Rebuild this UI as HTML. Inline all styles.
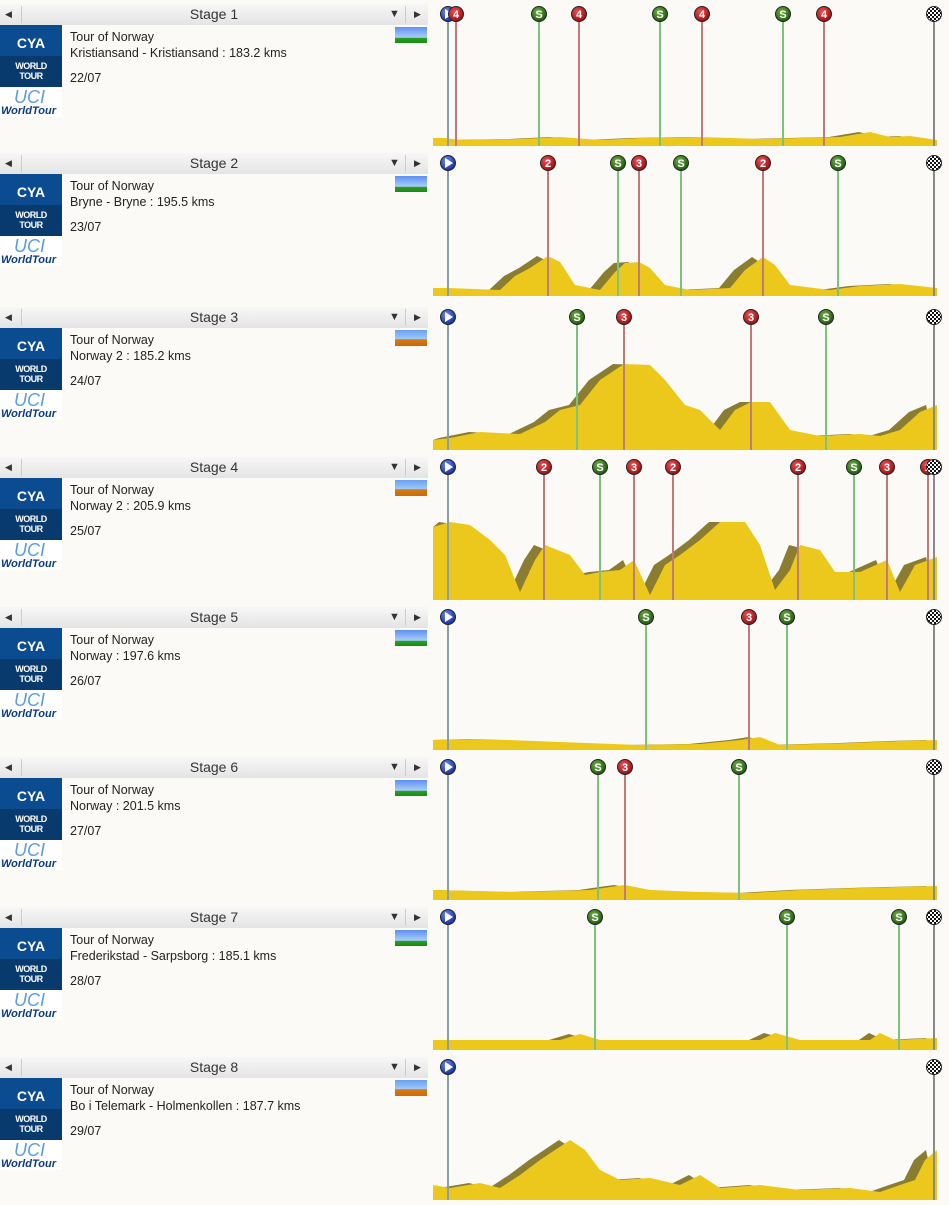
<!DOCTYPE html>
<html><head><meta charset="utf-8">
<style>
body{margin:0;width:949px;height:1205px;background:#fbfaf6;overflow:hidden;position:relative;font-family:"Liberation Sans","DejaVu Sans",sans-serif;}
.hdr{position:absolute;left:0;width:428px;height:21px;background:linear-gradient(#f7f7f7,#e4e4e4);color:#333;font-size:14px;}
.hdr .t{position:absolute;left:0;width:428px;text-align:center;top:2px;}
.hdr .a{position:absolute;font-size:9px;top:5px;color:#333}
.hdr .sep{position:absolute;top:2px;width:1px;height:17px;background:#ccc}
.logo{position:absolute;left:0;width:62px;}
.cya{height:31px;background:#0b4b8f;color:#fff;font-weight:bold;font-size:14px;text-align:center;line-height:36px;}
.wt{height:31px;background:#083a6e;color:#fff;font-weight:bold;font-size:9px;text-align:center;line-height:10px;padding-top:5px;box-sizing:border-box;letter-spacing:-0.5px}
.uci{height:30px;background:#fff;color:#1a4fa0;font-style:italic;font-weight:bold;font-size:11px;position:relative}
.uci span{position:absolute;bottom:0;left:1px;color:#0a3a80}
.uci b{position:absolute;top:0;left:14px;color:#5a9de0;font-size:18px;font-style:italic;font-weight:normal}
.info{position:absolute;left:70px;font-size:12.5px;color:#222;line-height:16px}
.thumb{position:absolute;left:395px;width:32px;height:16px;}
</style></head><body>
<div id="panels"></div>
<svg id="ch" width="949" height="1205" style="position:absolute;left:0;top:0">
<defs>
<radialGradient id="gr" cx="40%" cy="35%" r="65%"><stop offset="0" stop-color="#f05050"/><stop offset="1" stop-color="#9a0f14"/></radialGradient>
<radialGradient id="gg" cx="40%" cy="35%" r="65%"><stop offset="0" stop-color="#6fb040"/><stop offset="1" stop-color="#1f5a10"/></radialGradient>
<radialGradient id="gb" cx="40%" cy="35%" r="65%"><stop offset="0" stop-color="#6a8ef0"/><stop offset="1" stop-color="#1a2f9a"/></radialGradient>
<pattern id="chk" width="4" height="4" patternUnits="userSpaceOnUse"><rect width="4" height="4" fill="#fff"/><rect width="2" height="2" fill="#111"/><rect x="2" y="2" width="2" height="2" fill="#111"/></pattern>
</defs>
</svg>
<script>
var tops=[4,153,307,457,607,757,907,1057];
var info=[["Kristiansand - Kristiansand : 183.2 kms","22/07",0],["Bryne - Bryne : 195.5 kms","23/07",0],["Norway 2 : 185.2 kms","24/07",1],["Norway 2 : 205.9 kms","25/07",1],["Norway : 197.6 kms","26/07",0],["Norway : 201.5 kms","27/07",0],["Frederikstad - Sarpsborg : 185.1 kms","28/07",0],["Bo i Telemark - Holmenkollen : 187.7 kms","29/07",1]];
var h="";
for(var i=0;i<8;i++){var t=tops[i];
h+='<div class="hdr" style="top:'+t+'px"><span class="a" style="left:5px">&#9664;</span><span class="sep" style="left:21px"></span><div class="t">Stage '+(i+1)+'</div><span class="a" style="left:389px;font-size:11px;top:4px">&#9660;</span><span class="sep" style="left:405px"></span><span class="a" style="left:414px">&#9654;</span></div>';
h+='<div class="logo" style="top:'+(t+21)+'px"><div class="cya">CYA</div><div class="wt">WORLD<br>TOUR</div><div class="uci"><b>UCI</b><span>WorldTour</span></div></div>';
h+='<div class="info" style="top:'+(t+25)+'px">Tour of Norway<br>'+info[i][0]+'<br><div style="margin-top:9px">'+info[i][1]+'</div></div>';
h+='<div class="thumb" style="top:'+(t+23)+'px;background:'+(info[i][2]?'linear-gradient(#6aa0f0,#9cc8f8 55%,#d87a10 60%,#c86a08)':'linear-gradient(#5f8ff0,#a8cdf8 65%,#2aa020 70%,#1a8a18)')+'"></div>';}
document.getElementById("panels").innerHTML=h;
var P=[
[146,[[433,138],[445,138],[460,140],[520,139],[560,137],[600,140],[640,138],[700,137],[760,139],[800,138],[840,137],[870,132],[890,137],[910,136],[937,140]]],
[296,[[433,288],[448,288],[500,290],[515,276],[530,268],[548,256],[560,262],[575,285],[600,290],[615,272],[625,263],[639,262],[650,268],[665,285],[690,290],[730,288],[745,270],[763,257],[775,265],[790,285],[830,290],[860,286],[900,284],[937,288]]],
[450,[[433,440],[450,438],[480,432],[520,434],[545,422],[560,410],[580,405],[600,380],[624,364],[650,365],[665,380],[685,405],[700,410],[720,430],[735,410],[751,402],[770,402],[790,430],[820,436],[860,434],[880,436],[900,430],[920,412],[937,405]]],
[600,[[433,527],[450,522],[470,525],[490,540],[505,555],[520,592],[535,560],[545,545],[570,555],[585,575],[600,572],[620,570],[634,560],[650,595],[665,565],[680,555],[700,540],[720,522],[745,522],[760,545],[775,590],[790,570],[800,545],[820,550],[835,572],[860,572],[887,560],[900,592],[915,565],[937,557]]],
[750,[[433,740],[480,739],[560,742],[640,745],[700,744],[740,740],[760,737],[780,745],[850,743],[900,741],[937,740]]],
[900,[[433,890],[520,892],[590,890],[610,887],[625,885],[650,890],[700,892],[750,893],[800,890],[860,888],[937,886]]],
[1050,[[433,1040],[560,1040],[580,1034],[600,1040],[760,1040],[775,1033],[800,1040],[870,1040],[880,1033],[895,1040],[937,1038]]],
[1200,[[433,1185],[450,1188],[480,1183],[500,1188],[520,1175],[540,1160],[555,1150],[570,1140],[585,1150],[600,1170],[620,1180],[650,1178],[680,1185],[700,1175],[720,1188],[760,1185],[800,1190],[850,1188],[880,1192],[900,1185],[915,1180],[925,1160],[937,1150]]]];
var M=[
[[456,"r","4"],[539,"g","S"],[579,"r","4"],[660,"g","S"],[702,"r","4"],[783,"g","S"],[824,"r","4"]],
[[548,"r","2"],[618,"g","S"],[639,"r","3"],[681,"g","S"],[763,"r","2"],[838,"g","S"]],
[[577,"g","S"],[624,"r","3"],[751,"r","3"],[826,"g","S"]],
[[544,"r","2"],[600,"g","S"],[634,"r","3"],[673,"r","2"],[798,"r","2"],[854,"g","S"],[887,"r","3"],[928,"r","2"]],
[[646,"g","S"],[749,"r","3"],[787,"g","S"]],
[[598,"g","S"],[625,"r","3"],[739,"g","S"]],
[[595,"g","S"],[787,"g","S"],[899,"g","S"]],
[]];
var s="";
for(var i=0;i<8;i++){var b=P[i][0],pts=P[i][1],t=tops[i];
var sh=pts.map(function(p){return Math.max(433,p[0]-11)+","+p[1]}).join(" ");
s+='<polygon points="433,'+b+' '+sh+' 937,'+b+'" fill="#8a7d32"/>';
s+='<polygon points="433,'+b+' '+pts.map(function(p){return p[0]+","+p[1]}).join(" ")+' 937,'+b+'" fill="#ecc81c"/>';
var cy=t+10;
s+='<line x1="448" y1="'+cy+'" x2="448" y2="'+b+'" stroke="#8a9ea8" stroke-width="2"/>';
s+='<line x1="934" y1="'+cy+'" x2="934" y2="'+b+'" stroke="#888" stroke-width="2"/>';
M[i].forEach(function(m){var c=m[1]=="r"?"#c07a7a":"#7cc27c";
s+='<line x1="'+m[0]+'" y1="'+cy+'" x2="'+m[0]+'" y2="'+b+'" stroke="'+c+'" stroke-width="2"/>';});
s+='<circle cx="448" cy="'+cy+'" r="7.5" fill="url(#gb)" stroke="#222" stroke-width="1"/><polygon points="445,'+(cy-5)+' 445,'+(cy+5)+' 453,'+cy+'" fill="#fff"/>';
M[i].forEach(function(m){s+='<circle cx="'+m[0]+'" cy="'+cy+'" r="7.5" fill="url(#g'+m[1]+')" stroke="#222" stroke-width="1"/><text x="'+m[0]+'" y="'+(cy+4)+'" font-size="11" font-weight="bold" fill="#fff" text-anchor="middle" font-family="Liberation Sans,sans-serif">'+m[2]+'</text>';});
s+='<circle cx="934" cy="'+cy+'" r="7.5" fill="url(#chk)" stroke="#222" stroke-width="1"/>';}
document.getElementById("ch").innerHTML+=s;
</script>
</body></html>
